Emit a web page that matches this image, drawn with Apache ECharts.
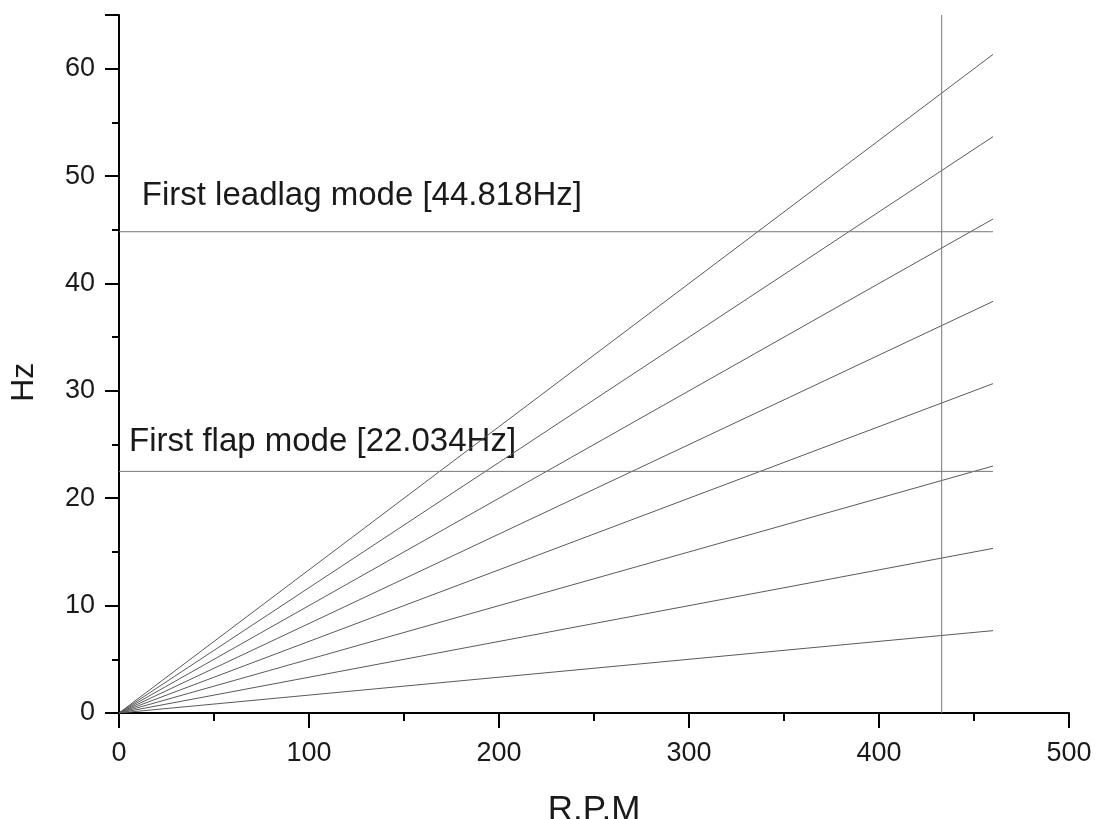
<!DOCTYPE html>
<html>
<head>
<meta charset="utf-8">
<script src="https://cdn.jsdelivr.net/npm/echarts@6/dist/echarts.min.js"></script>
<style>
html,body{margin:0;padding:0;background:#fff;}
#chart{width:1099px;height:819px;}
</style>
</head>
<body>
<div id="chart"></div>
<script>
// Data
var rpmRange = [0, 460];
var orderLines = [
  [0, 7.67], [0, 15.33], [0, 23.0], [0, 30.67],
  [0, 38.33], [0, 46.0], [0, 53.67], [0, 61.33]
];
var leadlagHz = 44.818;
var flapHz = 22.5;
var operatingRpm = 433;
var xTicks = [0, 100, 200, 300, 400, 500];
var yTicks = [0, 10, 20, 30, 40, 50, 60];
var yMax = 65;
var leadlagLabel = 'First leadlag mode [44.818Hz]';
var flapLabel = 'First flap mode [22.034Hz]';

var FONT = '"Liberation Sans", Arial, sans-serif';
var chart = echarts.init(document.getElementById('chart'));

var series = [];
orderLines.forEach(function (ys, i) {
  series.push({
    type: 'line', name: 'order' + (i + 1), showSymbol: false, silent: true,
    lineStyle: { color: '#5a5a5a', width: 1 },
    data: [[rpmRange[0], ys[0]], [rpmRange[1], ys[1]]]
  });
});
series.push({
  type: 'line', name: 'leadlag', showSymbol: false, silent: true,
  lineStyle: { color: '#777', width: 1 },
  data: [[rpmRange[0], leadlagHz], [rpmRange[1], leadlagHz]]
});
series.push({
  type: 'line', name: 'flap', showSymbol: false, silent: true,
  lineStyle: { color: '#777', width: 1 },
  data: [[rpmRange[0], flapHz], [rpmRange[1], flapHz]]
});
series.push({
  type: 'line', name: 'operating', showSymbol: false, silent: true,
  lineStyle: { color: '#777', width: 1 },
  data: [[operatingRpm, 0], [operatingRpm, yMax]]
});

function axisCommon(margin) {
  return {
    axisLine: { show: true, onZero: false, lineStyle: { color: '#000', width: 2 } },
    axisTick: { show: true, inside: false, length: 15, lineStyle: { color: '#000', width: 2 } },
    minorTick: { show: true, splitNumber: 2, length: 8, lineStyle: { color: '#000', width: 2 } },
    splitLine: { show: false },
    axisLabel: { fontFamily: FONT, fontSize: 27, color: '#1a1a1a', margin: margin }
  };
}

var xAx = Object.assign({
  type: 'value', min: xTicks[0], max: xTicks[xTicks.length - 1], interval: 100,
  name: 'R.P.M', nameLocation: 'middle', nameGap: 80,
  nameTextStyle: { fontFamily: FONT, fontSize: 35, color: '#1a1a1a' }
}, axisCommon(27));
var yAx = Object.assign({
  type: 'value', min: yTicks[0], max: yMax, interval: 10
}, axisCommon(24));
yAx.axisLabel.showMaxLabel = false;
yAx.axisTick.length = 14;
yAx.minorTick.length = 7;

chart.setOption({
  animation: false,
  backgroundColor: '#fff',
  grid: { left: 119, right: 30, top: 15, bottom: 106, containLabel: false, outerBoundsMode: 'none' },
  xAxis: xAx,
  yAxis: yAx,
  series: series
});

function place() {
  var a = chart.convertToPixel({ gridIndex: 0 }, [12.0, 47.3]);
  var b = chart.convertToPixel({ gridIndex: 0 }, [5.3, 24.4]);
  var yTitle = chart.convertToPixel({ gridIndex: 0 }, [0, 30.8]);
  var fs = 33;
  chart.setOption({
    graphic: [
      { type: 'text', x: a[0], y: a[1] + fs * 0.22, silent: true,
        style: { text: leadlagLabel, font: fs + 'px ' + FONT, fill: '#1a1a1a', verticalAlign: 'bottom' } },
      { type: 'text', x: b[0], y: b[1] + fs * 0.22, silent: true,
        style: { text: flapLabel, font: fs + 'px ' + FONT, fill: '#1a1a1a', verticalAlign: 'bottom' } },
      { type: 'text', x: 24, y: yTitle[1], rotation: Math.PI / 2, silent: true,
        style: { text: 'Hz', font: '32px ' + FONT, fill: '#1a1a1a', align: 'center', verticalAlign: 'middle' } }
    ]
  });
}
place();
</script>
</body>
</html>
